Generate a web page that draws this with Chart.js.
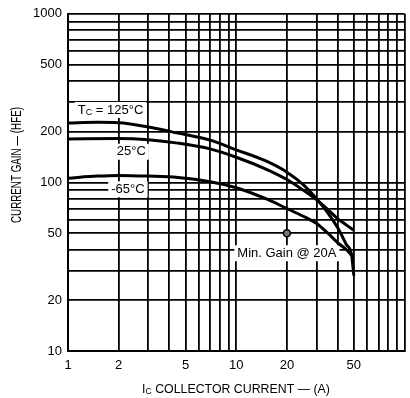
<!DOCTYPE html>
<html>
<head>
<meta charset="UTF-8">
<title>Current Gain vs Collector Current</title>
<script src="https://cdn.jsdelivr.net/npm/chart.js@4.4.1/dist/chart.umd.min.js"></script>
<style>
  html, body { margin: 0; padding: 0; background: #fff; }
  #wrap { width: 410px; height: 398px; position: relative; }
</style>
</head>
<body>
<div id="wrap"><canvas id="gainChart"></canvas></div>
<script>
// grid / tick values (log-log paper)
const xGrid = [1, 2, 3, 4, 5, 6, 7, 8, 9, 10, 20, 30, 40, 50, 60, 70, 80, 90, 100];
const xLabels = [1, 2, 5, 10, 20, 50];
const yGrid = [10, 20, 30, 40, 50, 60, 70, 80, 90, 100, 200, 300, 400, 500, 600, 700, 800, 900, 1000];
const yLabels = [10, 20, 50, 100, 200, 500, 1000];

// Tc = 125°C
const ic125  = [1, 1.5, 2, 3, 4.5, 7, 10, 15, 20, 25, 30, 35, 40, 45, 48.5, 50];
const hfe125 = [225, 227, 226, 213, 196, 178, 156, 134, 115, 97, 80, 66, 54, 43, 37, 28];
// 25°C
const ic25  = [1, 2, 3, 4.5, 7, 10, 15, 20, 25, 30, 35, 40, 45, 50];
const hfe25 = [181, 182, 179, 171, 158, 141, 120, 104, 90, 79, 69, 61, 56, 52];
// -65°C
const icM65  = [1, 1.5, 2, 3, 4.5, 7, 10, 15, 20, 25, 30, 35, 40, 45, 48.5];
const hfeM65 = [106, 109, 110, 109, 107, 101, 93, 80, 70, 63, 57, 50, 44, 40, 37];
// minimum gain point
const minIc = [20];
const minHfe = [50];

const FONT = '"Liberation Sans", Arial, Helvetica, sans-serif';

// text labels placed in data space
const notes = [
    { parts: [['T'], ['C', true], [' = 125°C']], x: 1.79, y: 269 },
    { parts: [['25°C']], x: 2.38, y: 152 },
    { parts: [['-65°C']], x: 2.27, y: 91 },
    { parts: [['Min. Gain @ 20A']], x: 20, y: 38 }
];

const toPts = (xs, ys) => xs.map((x, i) => ({ x: x, y: ys[i] }));

function measureParts(ctx, parts, size) {
    let w = 0;
    parts.forEach(p => {
        ctx.font = (p[1] ? size - 4 : size) + 'px ' + FONT;
        w += ctx.measureText(p[0]).width;
    });
    return w;
}

function drawParts(ctx, parts, x, y, size) {
    let cx = x;
    parts.forEach(p => {
        ctx.font = (p[1] ? size - 4 : size) + 'px ' + FONT;
        ctx.fillText(p[0], cx, p[1] ? y + 3 : y);
        cx += ctx.measureText(p[0]).width;
    });
}

const labelPlugin = {
    id: 'labelPlugin',
    beforeDatasetsDraw(chart) {
        const ctx = chart.ctx;
        const xs = chart.scales.x, ys = chart.scales.y;
        ctx.save();
        ctx.textBaseline = 'middle';
        ctx.textAlign = 'left';
        notes.forEach(n => {
            const px = xs.getPixelForValue(n.x);
            const py = ys.getPixelForValue(n.y);
            const w = measureParts(ctx, n.parts, 13);
            ctx.fillStyle = '#fff';
            ctx.fillRect(px - w / 2 - 3, py - 8, w + 6, 16);
            ctx.fillStyle = '#000';
            drawParts(ctx, n.parts, px - w / 2, py, 13);
        });
        ctx.restore();
    },
    afterDraw(chart) {
        const ctx = chart.ctx;
        ctx.save();
        ctx.fillStyle = '#000';
        ctx.textBaseline = 'middle';
        ctx.textAlign = 'left';
        // x axis title
        const xt = [['I'], ['C', true], [' COLLECTOR CURRENT — (A)']];
        const wx = measureParts(ctx, xt, 13);
        ctx.translate(236, 389);
        ctx.scale(0.95, 1);
        drawParts(ctx, xt, -wx / 2, 0, 13);
        ctx.restore();
        // y axis title
        ctx.save();
        ctx.fillStyle = '#000';
        ctx.textBaseline = 'middle';
        ctx.textAlign = 'center';
        ctx.translate(17, 165);
        ctx.rotate(-Math.PI / 2);
        ctx.scale(0.7, 1);
        ctx.font = '14px ' + FONT;
        ctx.fillText('CURRENT GAIN — (HFE)', 0, 0);
        ctx.restore();
    }
};

const curve = (pts) => ({
    data: pts,
    showLine: true,
    borderColor: '#000',
    borderWidth: 3,
    pointRadius: 0,
    cubicInterpolationMode: 'monotone',
    fill: false
});

new Chart(document.getElementById('gainChart'), {
    type: 'scatter',
    data: {
        datasets: [
            curve(toPts(ic125, hfe125)),
            curve(toPts(ic25, hfe25)),
            curve(toPts(icM65, hfeM65)),
            {
                data: toPts(minIc, minHfe),
                showLine: false,
                pointRadius: 3.5,
                pointBorderWidth: 1.5,
                pointBorderColor: '#000',
                pointBackgroundColor: '#777'
            }
        ]
    },
    options: {
        responsive: true,
        maintainAspectRatio: false,
        animation: false,
        layout: { padding: { top: 11, right: 2, left: 0, bottom: 0 } },
        plugins: { legend: { display: false }, tooltip: { enabled: false } },
        scales: {
            x: {
                type: 'logarithmic',
                min: 1, max: 100,
                afterBuildTicks: s => { s.ticks = xGrid.map(v => ({ value: v })); },
                afterFit: s => { s.height = 47; s.paddingLeft = 0; s.paddingRight = 0; },
                ticks: {
                    autoSkip: false, maxRotation: 0, padding: 7, color: '#000',
                    font: { family: FONT, size: 13 },
                    callback: v => xLabels.includes(v) ? String(v) : ''
                },
                grid: { color: '#000', lineWidth: 1.8, drawTicks: false },
                border: { color: '#000', width: 2 }
            },
            y: {
                type: 'logarithmic',
                min: 10, max: 1000,
                afterBuildTicks: s => { s.ticks = yGrid.map(v => ({ value: v })); },
                afterFit: s => { s.width = 68; },
                ticks: {
                    autoSkip: false, padding: 6, color: '#000',
                    font: { family: FONT, size: 13 },
                    callback: v => yLabels.includes(v) ? String(v) : ''
                },
                grid: { color: '#000', lineWidth: 1.8, drawTicks: false },
                border: { color: '#000', width: 2 }
            }
        }
    },
    plugins: [labelPlugin]
});
</script>
</body>
</html>
